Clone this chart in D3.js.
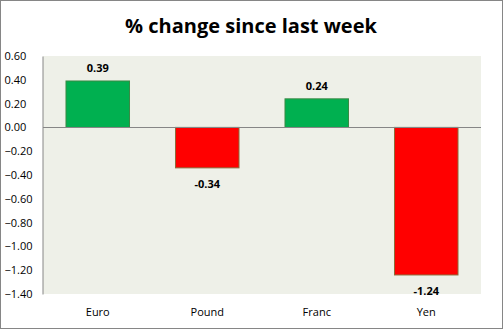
<!DOCTYPE html>
<html><head><meta charset="utf-8">
<script src="https://cdn.jsdelivr.net/npm/d3@7"></script>
<style>body{margin:0;background:#fff}svg{display:block}</style>
</head><body>
<script>
const categories = ["Euro", "Pound", "Franc", "Yen"];
const values = [0.39, -0.34, 0.24, -1.24];
const yTicks = [0.6, 0.4, 0.2, 0, -0.2, -0.4, -0.6, -0.8, -1.0, -1.2, -1.4];
const title = "% change since last week";

const W = 503, H = 329;
const svg = d3.select("body").append("svg").attr("width", W).attr("height", H);
svg.append("rect").attr("x", 0.5).attr("y", 0.5).attr("width", W - 1).attr("height", H - 1)
  .attr("fill", "#fff").attr("stroke", "#868686");

const m = {left: 43, right: 481, top: 56, bottom: 294};
const x = d3.scaleBand().domain(categories).range([m.left, m.right]).paddingInner(0.42).paddingOuter(0.21);
const y = d3.scaleLinear().domain([-1.4, 0.6]).range([m.bottom, m.top]);

svg.append("rect").attr("x", m.left).attr("y", m.top).attr("width", m.right - m.left).attr("height", m.bottom - m.top)
  .attr("fill", "#EEF0E8");

svg.append("text").attr("x", 251).attr("y", 33).attr("text-anchor", "middle")
  .attr("font-family", "'Open Sans', sans-serif").attr("font-weight", "bold").attr("font-size", 20)
  .attr("fill", "#000").text(title);

const yAxis = d3.axisLeft(y).tickValues(yTicks).tickSize(0).tickPadding(11).tickFormat(d3.format(".2f"));
const ga = svg.append("g").attr("transform", `translate(${m.left - 0.5},0)`).call(yAxis);
ga.select(".domain").attr("stroke", "#868686");
ga.selectAll("text").attr("font-family", "'Open Sans', sans-serif").attr("font-size", 11).attr("fill", "#000")
  .attr("text-anchor", "start").attr("x", -38);

svg.selectAll(".bar").data(values).enter().append("rect")
  .attr("x", (d, i) => x(categories[i]))
  .attr("width", x.bandwidth())
  .attr("y", d => y(Math.max(0, d)))
  .attr("height", d => Math.abs(y(d) - y(0)))
  .attr("fill", d => d >= 0 ? "#00B050" : "#FF0000")
  .attr("stroke", d => d >= 0 ? "#3A8A45" : "#8C6A3A").attr("stroke-width", 1);

svg.append("line").attr("x1", m.left).attr("x2", m.right).attr("y1", Math.round(y(0)) + 0.5).attr("y2", Math.round(y(0)) + 0.5)
  .attr("stroke", "#868686");

svg.selectAll(".lbl").data(values).enter().append("text")
  .attr("x", (d, i) => x(categories[i]) + x.bandwidth() / 2)
  .attr("y", d => d >= 0 ? y(d) - 9 : y(d) + 20)
  .attr("text-anchor", "middle").attr("font-family", "'Open Sans', sans-serif")
  .attr("font-weight", "bold").attr("font-size", 11).attr("fill", "#000")
  .text(d => d.toFixed(2));

const xAxis = d3.axisBottom(x).tickSize(0).tickPadding(0);
const gx = svg.append("g").attr("transform", "translate(0,0)").call(xAxis);
gx.select(".domain").remove();
gx.selectAll("text").attr("font-family", "'Open Sans', sans-serif").attr("font-size", 11).attr("fill", "#000")
  .attr("dy", null).attr("y", 316);
</script>
</body></html>
